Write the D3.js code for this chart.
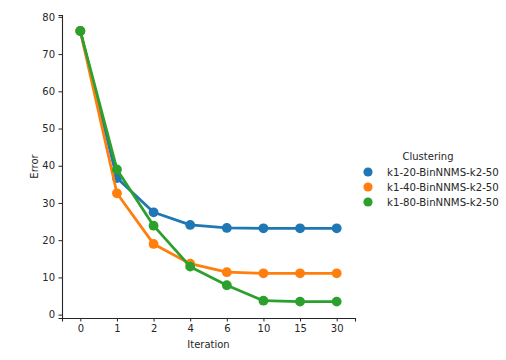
<!DOCTYPE html>
<html><head><meta charset="utf-8">
<script src="https://cdn.jsdelivr.net/npm/d3@7"></script>
<style>body{margin:0;background:#fff}text{font-family:"DejaVu Sans",sans-serif;fill:#262626}</style>
</head><body><svg id="c" width="506" height="360"></svg>
<script>
const iterations = ["0","1","2","4","6","10","15","30"];
const seriesNames = ["k1-20-BinNNMS-k2-50","k1-40-BinNNMS-k2-50","k1-80-BinNNMS-k2-50"];
const blueValues = [76.2, 36.7, 27.5, 24.1, 23.3, 23.2, 23.2, 23.2];
const orangeValues = [76.2, 32.6, 19.0, 13.7, 11.4, 11.1, 11.1, 11.1];
const greenValues = [76.2, 39.0, 23.9, 12.9, 7.9, 3.75, 3.5, 3.5];
const colors = ["#1f77b4","#ff7f0e","#2ca02c"];
const yTicks = [0,10,20,30,40,50,60,70,80];
const legendTitle = "Clustering";
const xLabel = "Iteration", yLabel = "Error";

const seriesValues = [blueValues, orangeValues, greenValues];
const svg = d3.select("#c");
const L = 62, R = 355, T = 15, B = 318;
const x = d3.scalePoint().domain(iterations).range([L, R]).padding(0.5);
const y = d3.scaleLinear().domain([-0.9, 80.5]).range([B, T]);

const ya = svg.append("g").attr("transform", `translate(${L},0)`)
  .call(d3.axisLeft(y).tickValues(yTicks).tickSize(3.5).tickPadding(3.5));
const xa = svg.append("g").attr("transform", `translate(0,${B})`)
  .call(d3.axisBottom(x).tickSize(3.5).tickPadding(3.5));
[ya, xa].forEach(a => {
  a.selectAll(".domain").attr("stroke", "#262626").attr("stroke-width", 1.1);
  a.selectAll(".tick line").attr("stroke", "#262626").attr("stroke-width", 1);
  a.selectAll("text").attr("font-size", 10).style("fill", "#262626");
});
svg.append("text").attr("x", (L + R) / 2).attr("y", 347.5).attr("text-anchor", "middle")
  .attr("font-size", 10).text(xLabel);
svg.append("text").attr("transform", `translate(38,${(T + B) / 2}) rotate(-90)`)
  .attr("text-anchor", "middle").attr("font-size", 10).text(yLabel);

const line = d3.line().x((d, i) => x(iterations[i])).y(d => y(d));
seriesValues.forEach((vals, s) => {
  const g = svg.append("g");
  g.append("path").datum(vals).attr("d", line).attr("fill", "none")
    .attr("stroke", colors[s]).attr("stroke-width", 2.8).attr("stroke-linejoin", "round");
  g.selectAll("circle").data(vals).join("circle")
    .attr("cx", (d, i) => x(iterations[i])).attr("cy", d => y(d)).attr("r", 4.9)
    .attr("fill", colors[s]);
});

const lg = svg.append("g");
lg.append("text").attr("x", 428).attr("y", 160).attr("text-anchor", "middle")
  .attr("font-size", 10).text(legendTitle);
seriesNames.forEach((n, i) => {
  const yy = 172 + i * 15;
  lg.append("circle").attr("cx", 368).attr("cy", yy).attr("r", 4.6).attr("fill", colors[i]);
  lg.append("text").attr("x", 387).attr("y", yy + 3.5).attr("font-size", 10.2).text(n);
});
</script></body></html>
